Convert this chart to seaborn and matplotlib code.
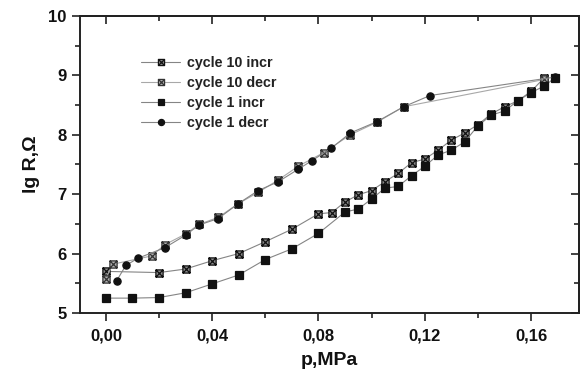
import numpy as np
import pandas as pd
import matplotlib
matplotlib.use("Agg")
import matplotlib.pyplot as plt
from matplotlib.path import Path
from matplotlib.ticker import MultipleLocator, FuncFormatter
import seaborn as sns

# Pressure (MPa) and lg R (Ohm) for each loading branch
p_c10_incr = [0.000, 0.020, 0.030, 0.040, 0.050, 0.060, 0.070, 0.080, 0.085, 0.090,
              0.095, 0.100, 0.105, 0.110, 0.115, 0.120, 0.125, 0.130, 0.135, 0.140,
              0.145, 0.150, 0.155, 0.160, 0.165]
r_c10_incr = [5.70, 5.68, 5.74, 5.88, 6.00, 6.20, 6.41, 6.67, 6.69, 6.87,
              6.99, 7.06, 7.21, 7.35, 7.53, 7.59, 7.74, 7.91, 8.03, 8.17,
              8.35, 8.47, 8.57, 8.73, 8.96]

p_c10_decr = [0.165, 0.112, 0.102, 0.092, 0.082, 0.0724, 0.0649, 0.0573, 0.0498,
              0.0423, 0.035, 0.030, 0.0222, 0.0172, 0.0025, 0.000]
r_c10_decr = [8.93, 8.47, 8.21, 8.00, 7.70, 7.47, 7.24, 7.03, 6.84,
              6.61, 6.49, 6.33, 6.15, 5.96, 5.82, 5.58]

p_c1_incr = [0.000, 0.010, 0.020, 0.030, 0.040, 0.050, 0.060, 0.070, 0.080, 0.090,
             0.095, 0.100, 0.105, 0.110, 0.115, 0.120, 0.125, 0.130, 0.135, 0.140,
             0.145, 0.150, 0.155, 0.160, 0.165, 0.169]
r_c1_incr = [5.25, 5.25, 5.26, 5.34, 5.49, 5.64, 5.90, 6.08, 6.34, 6.70,
             6.75, 6.92, 7.10, 7.13, 7.31, 7.47, 7.66, 7.74, 7.88, 8.15,
             8.33, 8.40, 8.57, 8.71, 8.82, 8.96]

p_c1_decr = [0.169, 0.122, 0.112, 0.102, 0.092, 0.0847, 0.0774, 0.0724, 0.0649,
             0.0573, 0.0498, 0.0423, 0.035, 0.030, 0.0222, 0.012, 0.0075, 0.004]
r_c1_decr = [8.97, 8.66, 8.47, 8.22, 8.03, 7.77, 7.56, 7.42, 7.21,
             7.06, 6.84, 6.59, 6.48, 6.31, 6.10, 5.92, 5.80, 5.54]

labels = ["cycle 10 incr", "cycle 10 decr", "cycle 1 incr", "cycle 1 decr"]

sns.set_theme(style="ticks")
plt.rcParams["font.family"] = ["Liberation Sans", "DejaVu Sans"]
plt.rcParams["font.weight"] = "bold"

# square with both diagonals drawn inside
crossed_square = Path(
    [(-1, -1), (1, -1), (1, 1), (-1, 1), (-1, -1),
     (-1, -1), (1, 1), (-1, 1), (1, -1)],
    [Path.MOVETO, Path.LINETO, Path.LINETO, Path.LINETO, Path.CLOSEPOLY,
     Path.MOVETO, Path.LINETO, Path.MOVETO, Path.LINETO])

fig = plt.figure(figsize=(5.83, 3.78), dpi=100)
ax = fig.add_axes([0.137, 0.172, 0.856, 0.786])

series = [
    (p_c10_incr, r_c10_incr, labels[0], crossed_square, "#8a8a8a", "#111111", "#858585"),
    (p_c10_decr, r_c10_decr, labels[1], crossed_square, "#b0b0b0", "#333333", "#a8a8a8"),
    (p_c1_incr, r_c1_incr, labels[2], "s", "#111111", "#111111", "#858585"),
    (p_c1_decr, r_c1_decr, labels[3], "o", "#111111", "#111111", "#858585"),
]

for px, ry, lab, mk, fc, ec, lc in series:
    df = pd.DataFrame({"p": px, "r": ry})
    sns.lineplot(data=df, x="p", y="r", sort=False, estimator=None, ax=ax,
                 color=lc, linewidth=0.8, marker=mk, markersize=5.2,
                 markerfacecolor=fc, markeredgecolor=ec, markeredgewidth=0.9,
                 label=lab)

ax.set_xlim(-0.0098, 0.178)
ax.set_ylim(5, 10)
ax.xaxis.set_major_locator(MultipleLocator(0.04))
ax.xaxis.set_minor_locator(MultipleLocator(0.02))
ax.yaxis.set_major_locator(MultipleLocator(1))
ax.yaxis.set_minor_locator(MultipleLocator(0.5))
ax.xaxis.set_major_formatter(FuncFormatter(lambda v, _: f"{v:.2f}".replace(".", ",")))
ax.yaxis.set_major_formatter(FuncFormatter(lambda v, _: f"{v:.0f}"))

for s in ax.spines.values():
    s.set_linewidth(1.4)
    s.set_color("#222222")

ax.tick_params(axis="both", which="both", colors="#222222", width=1.2,
               labelsize=12, labelcolor="#111111")
ax.tick_params(axis="both", which="major", length=6)
ax.tick_params(axis="both", which="minor", length=3.5)
ax.tick_params(axis="x", which="major", pad=5)
ax.tick_params(bottom=True, left=True, direction="out", which="both")
# mirrored ticks on the top and right edges point inward
ax2 = ax.secondary_xaxis("top")
ax2.xaxis.set_major_locator(MultipleLocator(0.04))
ax2.xaxis.set_minor_locator(MultipleLocator(0.02))
ax2.tick_params(which="both", direction="in", labeltop=False, width=1.2, colors="#222222")
ax2.tick_params(which="major", length=6)
ax2.tick_params(which="minor", length=3.5)
ay2 = ax.secondary_yaxis("right")
ay2.yaxis.set_major_locator(MultipleLocator(1))
ay2.yaxis.set_minor_locator(MultipleLocator(0.5))
ay2.tick_params(which="both", direction="in", labelright=False, width=1.2, colors="#222222")
ay2.tick_params(which="major", length=6)
ay2.tick_params(which="minor", length=3.5)

for lbl in ax.get_xticklabels() + ax.get_yticklabels():
    lbl.set_fontweight("bold")

ax.set_xlabel("p,MPa", fontsize=14, fontweight="bold", labelpad=6, color="#111111")
ax.set_ylabel("lg R,\u03a9", fontsize=14, fontweight="bold", labelpad=6, color="#111111")

leg = ax.legend(loc="upper left", bbox_to_anchor=(0.112, 0.885), frameon=False,
                fontsize=10.3, handlelength=2.7, handletextpad=0.45,
                labelspacing=0.42, borderaxespad=0, markerscale=0.85)
for t in leg.get_texts():
    t.set_fontweight("bold")
    t.set_color("#222222")

fig.savefig("out.png", dpi=100)
